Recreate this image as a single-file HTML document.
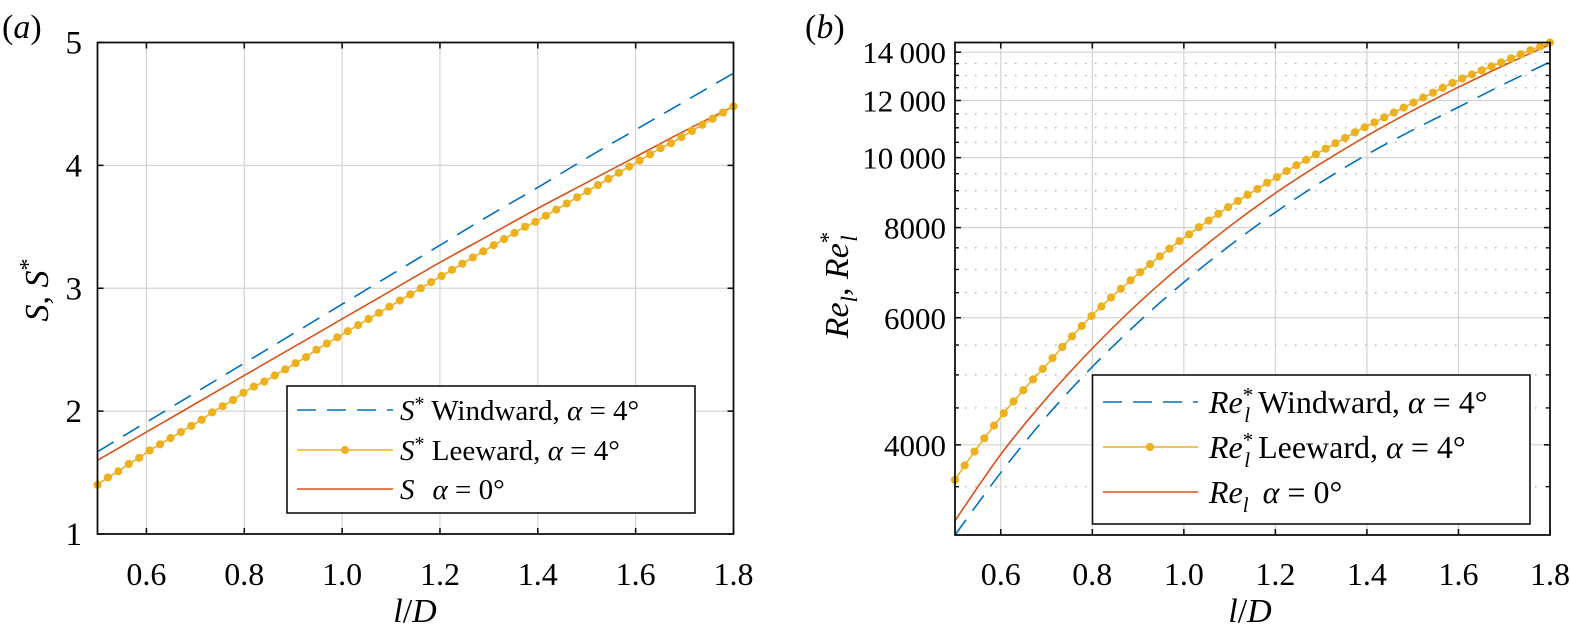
<!DOCTYPE html>
<html><head><meta charset="utf-8">
<style>
html,body{margin:0;padding:0;background:#fff;}
svg{display:block;}
svg text{font-family:"Liberation Serif","DejaVu Serif",serif;}
</style></head>
<body>
<svg id="fig" width="1570" height="641" viewBox="0 0 1570 641" xmlns="http://www.w3.org/2000/svg" font-family="Liberation Serif, DejaVu Serif, serif"></svg>
<script>
// ---------- data ----------
const xCoarse = [0.5,0.6,0.7,0.8,0.9,1.0,1.1,1.2,1.3,1.4,1.5,1.6,1.7,1.8];
const aWindward = [1.67,1.91,2.15,2.39,2.63,2.87,3.11,3.35,3.59,3.82,4.06,4.29,4.52,4.75];
const aZero = [1.60,1.83,2.06,2.29,2.52,2.75,2.98,3.21,3.43,3.65,3.86,4.07,4.28,4.48];
const aLeeward = [1.40,1.46,1.51,1.57,1.62,1.68,1.73,1.78,1.83,1.88,1.93,1.99,2.04,2.09,2.15,2.20,2.24,2.29,2.34,2.39,2.44,2.50,2.55,2.60,2.65,2.70,2.75,2.80,2.85,2.90,2.95,3.00,3.05,3.10,3.15,3.20,3.25,3.30,3.35,3.40,3.45,3.50,3.54,3.59,3.64,3.69,3.74,3.79,3.84,3.89,3.94,3.99,4.04,4.09,4.14,4.18,4.23,4.28,4.33,4.38,4.43,4.48];
const bWindward = [3000,3660,4380,5130,5910,6720,7550,8400,9250,10100,10920,11750,12650,13570];
const bZero = [3140,3880,4640,5440,6280,7140,8030,8930,9820,10720,11620,12520,13430,14350];
const bLeeward = [3577,3746,3915,4084,4253,4425,4593,4761,4929,5097,5275,5465,5655,5845,6035,6220,6400,6580,6760,6940,7120,7300,7480,7660,7830,8010,8180,8360,8540,8710,8880,9050,9230,9400,9580,9760,9930,10110,10290,10470,10650,10840,11020,11190,11370,11550,11730,11920,12110,12300,12500,12690,12870,13040,13210,13380,13550,13730,13910,14090,14260,14440];
const xTicks = [0.6,0.8,1.0,1.2,1.4,1.6,1.8];
const xTickLabels = ["0.6","0.8","1.0","1.2","1.4","1.6","1.8"];
const aYTicks = [1,2,3,4,5];
const bYTicks = [4000,6000,8000,10000,12000,14000];
const bYTickLabels = ["4000","6000","8000","10\u2009000","12\u2009000","14\u2009000"];
const bYMinor = [3500,4500,5000,5500,6500,7000,7500,8500,9000,9500,10500,11000,11500,12500,13000,13500];

const NS="http://www.w3.org/2000/svg";
const svg=document.getElementById('fig');
function el(tag,attrs,parent){const e=document.createElementNS(NS,tag);for(const k in attrs)e.setAttribute(k,attrs[k]);(parent||svg).appendChild(e);return e;}
const BLUE="#0072BD",RED="#D95319",YEL="#EDB120",GRID="#d4d4d4";
const TF="Liberation Serif, DejaVu Serif, serif";
const MR=4.1;
function fineX(n){const r=[];for(let i=0;i<n;i++)r.push(0.5+1.3*i/(n-1));return r;}
function smoothPath(pts){let d='M'+pts[0][0]+','+pts[0][1];for(let i=0;i<pts.length-1;i++){const p0=pts[Math.max(0,i-1)],p1=pts[i],p2=pts[i+1],p3=pts[Math.min(pts.length-1,i+2)];const c1x=p1[0]+(p2[0]-p0[0])/6,c1y=p1[1]+(p2[1]-p0[1])/6,c2x=p2[0]-(p3[0]-p1[0])/6,c2y=p2[1]-(p3[1]-p1[1])/6;d+=' C'+c1x+','+c1y+' '+c2x+','+c2y+' '+p2[0]+','+p2[1];}return d;}
function curve(xs,ys,fx,fy,attrs,parent,name){const p=el('path',Object.assign({d:smoothPath(xs.map((x,i)=>[fx(x),fy(ys[i])])),fill:'none'},attrs),parent);return p;}
function txt(parent,attrs,s,name){const t=el('text',Object.assign({'font-family':TF},attrs),parent);t.textContent=s;return t;}

// ---------- panel a ----------
const A={l:97.5,r:733.5,t:42.5,b:534};
const ax=v=>A.l+(v-0.5)/1.3*(A.r-A.l);
const ay=v=>A.b-(v-1)/4*(A.b-A.t);
const ga=el('g',{});


xTicks.forEach(t=>{const l=el('line',{x1:ax(t),x2:ax(t),y1:A.t,y2:A.b,stroke:GRID,'stroke-width':1.2},ga);});
aYTicks.forEach(t=>{const l=el('line',{x1:A.l,x2:A.r,y1:ay(t),y2:ay(t),stroke:GRID,'stroke-width':1.2},ga);});
curve(xCoarse,aWindward,ax,ay,{stroke:BLUE,'stroke-width':1.6,'stroke-dasharray':'19 11'},ga,'series-windward');
curve(xCoarse,aZero,ax,ay,{stroke:RED,'stroke-width':1.6},ga,'series-alpha0');
const xa=fineX(aLeeward.length);
curve(xa,aLeeward,ax,ay,{stroke:YEL,'stroke-width':1.6},ga,'series-leeward');
xa.forEach((x,i)=>{const c=el('circle',{cx:ax(x),cy:ay(aLeeward[i]),r:MR,fill:YEL},ga);});
const fa=el('rect',{x:A.l,y:A.t,width:A.r-A.l,height:A.b-A.t,fill:'none',stroke:'#111','stroke-width':1.8},ga);

xTicks.forEach((t,i)=>{
 el('line',{x1:ax(t),x2:ax(t),y1:A.b,y2:A.b-6,stroke:'#111','stroke-width':1.6},ga);
 el('line',{x1:ax(t),x2:ax(t),y1:A.t,y2:A.t+6,stroke:'#111','stroke-width':1.6},ga);
 txt(ga,{x:ax(t),y:585,'font-size':32,'text-anchor':'middle'},xTickLabels[i],'x-tick-label');
});
aYTicks.forEach(t=>{
 el('line',{x1:A.l,x2:A.l+6,y1:ay(t),y2:ay(t),stroke:'#111','stroke-width':1.6},ga);
 el('line',{x1:A.r,x2:A.r-6,y1:ay(t),y2:ay(t),stroke:'#111','stroke-width':1.6},ga);
 txt(ga,{x:82,y:ay(t)+11,'font-size':33,'text-anchor':'end'},String(t),'y-tick-label');
});
// legend a
const lga=el('g',{},ga);
el('rect',{x:287,y:386,width:408,height:127,fill:'#fff',stroke:'#111','stroke-width':1.6},lga);
el('line',{x1:297,x2:393,y1:410,y2:410,stroke:BLUE,'stroke-width':1.6,'stroke-dasharray':'19 11'},lga);
el('line',{x1:297,x2:393,y1:450,y2:450,stroke:YEL,'stroke-width':1.6},lga);
el('circle',{cx:345,cy:450,r:MR,fill:YEL},lga);
el('line',{x1:297,x2:393,y1:489,y2:489,stroke:RED,'stroke-width':1.6},lga);
const F=' font-family="Liberation Serif, DejaVu Serif, serif"';
lga.insertAdjacentHTML('beforeend',
 '<text x="400" y="420" font-size="29"'+F+'><tspan font-style="italic">S</tspan><tspan font-size="20" dy="-10">*</tspan><tspan dy="10"> Windward, </tspan><tspan font-style="italic">α</tspan> = 4°</text>'+
 '<text x="400" y="460" font-size="29"'+F+'><tspan font-style="italic">S</tspan><tspan font-size="20" dy="-10">*</tspan><tspan dy="10"> Leeward, </tspan><tspan font-style="italic">α</tspan> = 4°</text>'+
 '<text x="400" y="499" font-size="29"'+F+'><tspan font-style="italic">S</tspan><tspan dx="18" font-style="italic">α</tspan> = 0°</text>');
ga.insertAdjacentHTML('beforeend',
 '<text x="415" y="622" font-size="34"'+F+' text-anchor="middle"><tspan font-style="italic">l</tspan>/<tspan font-style="italic">D</tspan></text>'+
 '<text transform="translate(48,290) rotate(-90)" font-size="34"'+F+' text-anchor="middle"><tspan font-style="italic">S</tspan>, <tspan font-style="italic">S</tspan><tspan font-size="24" dy="-12">*</tspan></text>'+
 '<text x="2" y="38" font-size="34"'+F+'>(<tspan font-style="italic">a</tspan>)</text>');

// ---------- panel b ----------
const B={l:955,r:1550,t:42.5,b:535};
const LMIN=Math.log10(3000),LMAX=Math.log10(14440);
const bx=v=>B.l+(v-0.5)/1.3*(B.r-B.l);
const by=v=>B.b-(Math.log10(v)-LMIN)/(LMAX-LMIN)*(B.b-B.t);
const gb=el('g',{});


bYMinor.forEach(t=>{const l=el('line',{x1:B.l,x2:B.r,y1:by(t),y2:by(t),stroke:'#b0b0b0','stroke-width':1.4,'stroke-dasharray':'1.5 8.5'},gb);});
xTicks.forEach(t=>{const l=el('line',{x1:bx(t),x2:bx(t),y1:B.t,y2:B.b,stroke:GRID,'stroke-width':1.2},gb);});
bYTicks.forEach(t=>{const l=el('line',{x1:B.l,x2:B.r,y1:by(t),y2:by(t),stroke:GRID,'stroke-width':1.2},gb);});
curve(xCoarse,bWindward,bx,by,{stroke:BLUE,'stroke-width':1.6,'stroke-dasharray':'19 11'},gb,'series-windward');
curve(xCoarse,bZero,bx,by,{stroke:RED,'stroke-width':1.6},gb,'series-alpha0');
const xb=fineX(bLeeward.length);
curve(xb,bLeeward,bx,by,{stroke:YEL,'stroke-width':1.6},gb,'series-leeward');
xb.forEach((x,i)=>{const c=el('circle',{cx:bx(x),cy:by(bLeeward[i]),r:MR,fill:YEL},gb);});
const fb=el('rect',{x:B.l,y:B.t,width:B.r-B.l,height:B.b-B.t,fill:'none',stroke:'#111','stroke-width':1.8},gb);

xTicks.forEach((t,i)=>{
 el('line',{x1:bx(t),x2:bx(t),y1:B.b,y2:B.b-6,stroke:'#111','stroke-width':1.6},gb);
 el('line',{x1:bx(t),x2:bx(t),y1:B.t,y2:B.t+6,stroke:'#111','stroke-width':1.6},gb);
 txt(gb,{x:bx(t),y:585,'font-size':32,'text-anchor':'middle'},xTickLabels[i],'x-tick-label');
});
bYMinor.forEach(t=>{
 el('line',{x1:B.l,x2:B.l+4,y1:by(t),y2:by(t),stroke:'#111','stroke-width':1.4},gb);
 el('line',{x1:B.r,x2:B.r-4,y1:by(t),y2:by(t),stroke:'#111','stroke-width':1.4},gb);
});
bYTicks.forEach((t,i)=>{
 el('line',{x1:B.l,x2:B.l+6,y1:by(t),y2:by(t),stroke:'#111','stroke-width':1.6},gb);
 el('line',{x1:B.r,x2:B.r-6,y1:by(t),y2:by(t),stroke:'#111','stroke-width':1.6},gb);
 txt(gb,{x:946,y:by(t)+11,'font-size':31,'text-anchor':'end'},bYTickLabels[i],'y-tick-label');
});
const lgb=el('g',{},gb);
el('rect',{x:1092.5,y:375,width:437.5,height:149,fill:'#fff',stroke:'#111','stroke-width':1.6},lgb);
el('line',{x1:1103,x2:1198,y1:402,y2:402,stroke:BLUE,'stroke-width':1.6,'stroke-dasharray':'19 11'},lgb);
el('line',{x1:1103,x2:1198,y1:447,y2:447,stroke:YEL,'stroke-width':1.6},lgb);
el('circle',{cx:1150,cy:447,r:MR,fill:YEL},lgb);
el('line',{x1:1103,x2:1198,y1:492,y2:492,stroke:RED,'stroke-width':1.6},lgb);
lgb.insertAdjacentHTML('beforeend',
 '<text x="1209" y="413" font-size="32"'+F+'><tspan font-style="italic">Re</tspan><tspan font-size="21" dy="-11">*</tspan><tspan font-size="21" font-style="italic" dx="-9" dy="20">l</tspan><tspan dy="-9" dx="8">Windward, </tspan><tspan font-style="italic">α</tspan> = 4°</text>'+
 '<text x="1209" y="458" font-size="32"'+F+'><tspan font-style="italic">Re</tspan><tspan font-size="21" dy="-11">*</tspan><tspan font-size="21" font-style="italic" dx="-9" dy="20">l</tspan><tspan dy="-9" dx="8">Leeward, </tspan><tspan font-style="italic">α</tspan> = 4°</text>'+
 '<text x="1209" y="503" font-size="32"'+F+'><tspan font-style="italic">Re</tspan><tspan font-size="21" font-style="italic" dy="9">l</tspan><tspan dy="-9" dx="14" font-style="italic">α</tspan> = 0°</text>');
gb.insertAdjacentHTML('beforeend',
 '<text x="1250" y="622" font-size="34"'+F+' text-anchor="middle"><tspan font-style="italic">l</tspan>/<tspan font-style="italic">D</tspan></text>'+
 '<text transform="translate(848,285) rotate(-90)" font-size="34"'+F+' text-anchor="middle"><tspan font-style="italic">Re</tspan><tspan font-size="23" font-style="italic" dy="9">l</tspan><tspan dy="-9">, </tspan><tspan font-style="italic">Re</tspan><tspan font-size="23" dy="-12">*</tspan><tspan font-size="23" font-style="italic" dx="-10" dy="21">l</tspan></text>'+
 '<text x="805" y="38" font-size="34"'+F+'>(<tspan font-style="italic">b</tspan>)</text>');
</script>
</body></html>
